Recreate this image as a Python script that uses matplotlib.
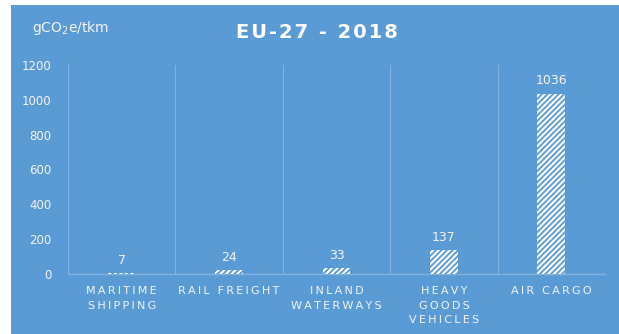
import matplotlib.pyplot as plt
import matplotlib.patches as patches

categories = ["MARITIME\nSHIPPING", "RAIL FREIGHT", "INLAND\nWATERWAYS",
              "HEAVY\nGOODS\nVEHICLES", "AIR CARGO"]
emissions = [7, 24, 33, 137, 1036]
yticks = [0, 200, 400, 600, 800, 1000, 1200]

BG = "#5B9BD5"
GRID = "#82B3E0"
TXT = "#F2F2F2"


def spaced(s, sep="\u2009"):
    # widen the letter spacing line by line
    return "\n".join(sep.join(line) for line in s.split("\n"))


plt.rcParams["hatch.linewidth"] = 1.5
plt.rcParams["font.family"] = ["DejaVu Sans"]

fig = plt.figure(figsize=(6.19, 3.34), dpi=100, facecolor="white")
fig.patches.append(patches.Rectangle((11 / 619, 0), 1, 329 / 334,
                                     transform=fig.transFigure,
                                     facecolor=BG, edgecolor="none", zorder=-10))

ax = fig.add_axes([68 / 619, 60 / 334, 537 / 619, 209 / 334])
ax.set_facecolor("none")

x = range(len(categories))
ax.bar(x, emissions, width=0.26, color=BG, edgecolor="white",
       linewidth=0, hatch="//////", zorder=3)

for xi, v in zip(x, emissions):
    ax.text(xi, v + 35, str(v), ha="center", va="bottom", color=TXT, fontsize=9)

ax.set_xlim(-0.5, len(categories) - 0.5)
ax.set_ylim(0, 1200)
ax.set_yticks(yticks)
ax.set_yticklabels([str(t) for t in yticks], color=TXT, fontsize=8.5)

for b in [i - 0.5 for i in range(len(categories) + 1)]:
    ax.axvline(b, color=GRID, linewidth=0.8, zorder=1)

ax.set_xticks(list(x))
ax.set_xticklabels([spaced(c) for c in categories], color=TXT, fontsize=8,
                   linespacing=1.55, va="top")
ax.tick_params(axis="both", length=0)
ax.tick_params(axis="x", pad=9)
ax.tick_params(axis="y", pad=12)

for side in ["top", "right", "left"]:
    ax.spines[side].set_visible(False)
ax.spines["bottom"].set_color(GRID)
ax.spines["bottom"].set_linewidth(1)

fig.text(317 / 619, 1 - 32 / 334, spaced("EU-27 - 2018", "\u200a"),
         ha="center", va="center", color="white", fontsize=14,
         fontweight="bold")
fig.text(32 / 619, 1 - 28 / 334, r"gCO$_2$e/tkm", ha="left", va="center",
         color=TXT, fontsize=10)

fig.savefig("out.png", dpi=100, facecolor="white")
